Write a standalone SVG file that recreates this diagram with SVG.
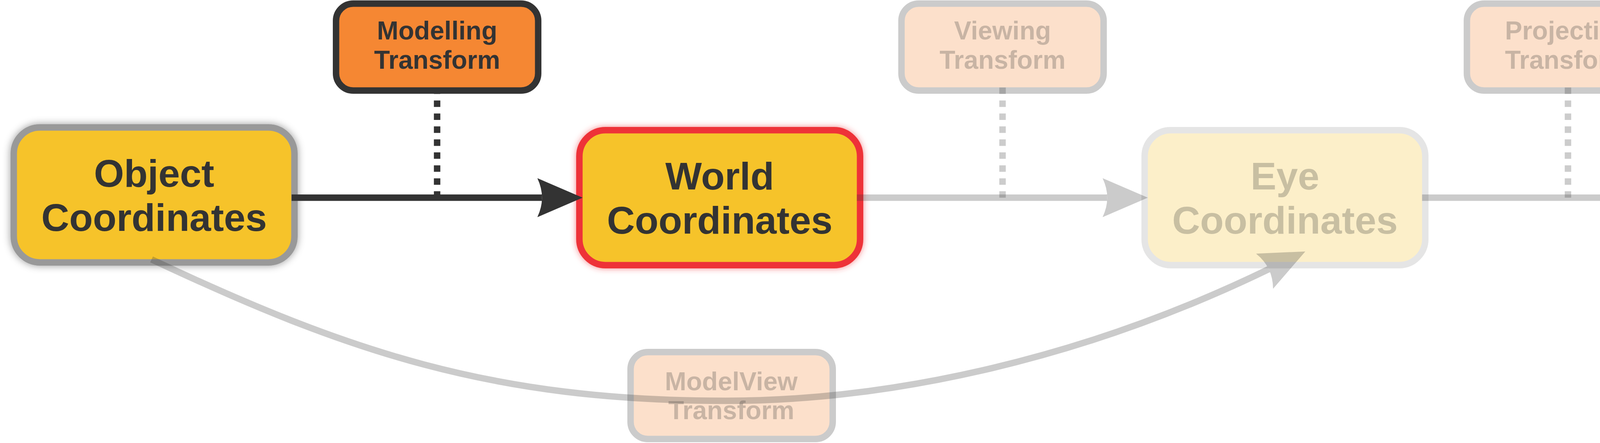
<svg xmlns="http://www.w3.org/2000/svg" width="6553" height="1134" viewBox="0 0 6553 1134">
<style>
.bg{fill:#ffffff}
.coord{fill:#F6C32B;stroke:#999999;stroke-width:16.5}
.world{fill:#F6C32B;stroke:#EE3338;stroke-width:16.5}
.xf{fill:#F58733;stroke:#333333;stroke-width:16.5}
.big{font-family:"Liberation Sans",Arial,sans-serif;font-weight:bold;font-size:99px;fill:#333333;text-anchor:middle}
.small{font-family:"Liberation Sans",Arial,sans-serif;font-weight:bold;font-size:66px;fill:#333333;text-anchor:middle}
.fade{opacity:0.25}
.conn{fill:none;stroke:#333333;stroke-width:16.5}
.dash{stroke-dasharray:16.6 16.6}
</style>
<defs>
<marker id="arrow" markerUnits="userSpaceOnUse" viewBox="0 -50 116 100" markerWidth="116" markerHeight="100" refX="12" refY="0" orient="auto">
<path d="M0,-50 L116,0 L0,50 Q24,0 0,-50 Z" fill="#333333"/>
</marker>
<filter id="grayShadow" x="-10%" y="-20%" width="120%" height="140%">
<feDropShadow dx="0" dy="0" stdDeviation="10" flood-color="#000000" flood-opacity="0.4"/>
</filter>
<filter id="redGlow" x="-10%" y="-20%" width="120%" height="140%">
<feDropShadow dx="0" dy="0" stdDeviation="8" flood-color="#EE3338" flood-opacity="0.6"/>
</filter>
</defs>
<rect class="bg" x="0" y="0" width="6553" height="1134"/>

<g id="object-coordinates">
<rect class="coord" x="35.25" y="326.25" width="718.5" height="345.5" rx="66.75" filter="url(#grayShadow)"/>
<text class="big"><tspan x="394.5" y="478">Object</tspan><tspan x="394.5" y="591">Coordinates</tspan></text>
</g>
<g id="world-coordinates">
<rect class="world" x="1483.25" y="333.25" width="718.5" height="345.5" rx="66.75" filter="url(#redGlow)"/>
<text class="big"><tspan x="1842.5" y="485">World</tspan><tspan x="1842.5" y="598">Coordinates</tspan></text>
</g>
<g id="eye-coordinates">
<rect class="coord fade" x="2930.25" y="333.25" width="718.5" height="345.5" rx="66.75"/>
<text class="big fade"><tspan x="3289.5" y="485">Eye</tspan><tspan x="3289.5" y="598">Coordinates</tspan></text>
</g>
<g id="clip-coordinates">
<rect class="coord fade" x="4377.25" y="333.25" width="718.5" height="345.5" rx="66.75"/>
<text class="big fade"><tspan x="4736.5" y="485">Clip</tspan><tspan x="4736.5" y="598">Coordinates</tspan></text>
</g>
<g id="device-coordinates">
<rect class="coord fade" x="5824.25" y="333.25" width="718.5" height="345.5" rx="66.75"/>
<text class="big fade"><tspan x="6183.5" y="485">Device</tspan><tspan x="6183.5" y="598">Coordinates</tspan></text>
</g>

<g id="modelling-transform">
<rect class="xf" x="860.25" y="9.25" width="517.5" height="222.5" rx="44"/>
<text class="small"><tspan x="1119" y="101">Modelling</tspan><tspan x="1119" y="175.5">Transform</tspan></text>
</g>
<g id="viewing-transform">
<rect class="xf fade" x="2307.75" y="9.25" width="517.5" height="222.5" rx="44"/>
<text class="small fade"><tspan x="2566.5" y="101">Viewing</tspan><tspan x="2566.5" y="175.5">Transform</tspan></text>
</g>
<g id="projection-transform">
<rect class="xf fade" x="3755.25" y="9.25" width="517.5" height="222.5" rx="44"/>
<text class="small fade"><tspan x="4014" y="101">Projection</tspan><tspan x="4014" y="175.5">Transform</tspan></text>
</g>
<g id="viewport-transform">
<rect class="xf fade" x="5202.25" y="9.25" width="517.5" height="222.5" rx="44"/>
<text class="small fade"><tspan x="5461" y="101">Viewport</tspan><tspan x="5461" y="175.5">Transform</tspan></text>
</g>
<g id="modelview-transform">
<rect class="xf fade" x="1614.25" y="901.25" width="517.5" height="222.5" rx="44"/>
<text class="small fade"><tspan x="1872" y="999">ModelView</tspan><tspan x="1872" y="1073">Transform</tspan></text>
</g>

<g id="connectors">
<path class="conn" d="M746.5,506 H1387.5" marker-end="url(#arrow)"/>
<path class="conn dash" d="M1119,224 V506"/>
<g class="fade"><path class="conn" d="M2193.5,506 H2834.5" marker-end="url(#arrow)"/></g>
<g class="fade"><path class="conn dash" d="M2566.5,224 V506"/></g>
<g class="fade"><path class="conn" d="M3640.5,506 H4281.5" marker-end="url(#arrow)"/></g>
<g class="fade"><path class="conn dash" d="M4014,224 V506"/></g>
<g class="fade"><path class="conn" d="M5087.5,506 H5728.5" marker-end="url(#arrow)"/></g>
<g class="fade"><path class="conn dash" d="M5461,224 V506"/></g>
<g class="fade"><path class="conn" d="M388,664 C888,899 1258,1026 1858,1026 C2258,1026 2753,929 3248,689" marker-end="url(#arrow)"/></g>
</g>
</svg>
